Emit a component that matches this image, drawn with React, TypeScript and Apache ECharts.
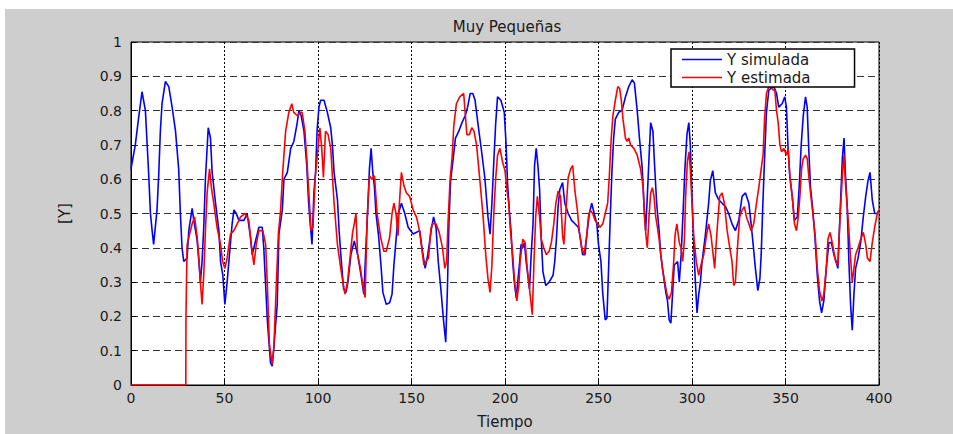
import React, { useEffect, useRef } from "react";
import * as echarts from "echarts";

const chartTitle = "Muy Pequeñas";
const xAxisName = "Tiempo";
const yAxisName = "[Y]";
const seriesNames = ["Y simulada", "Y estimada"];

// [tiempo, valor]
const ySimulada: [number, number][] = [
  [0,0.63],[2.3,0.70],[4.1,0.78],[5.9,0.855],[7.7,0.80],[9.5,0.61],[10.4,0.50],[11.3,0.45],[12.1,0.41],[13.9,0.51],
  [14.8,0.61],[15.7,0.74],[16.6,0.82],[18.4,0.885],[20.2,0.87],[22,0.81],[23.8,0.74],[25.5,0.63],[26.4,0.50],[27.3,0.40],
  [28.2,0.36],[30,0.37],[30.9,0.45],[32.7,0.515],[33.6,0.48],[35.4,0.42],[36.3,0.36],[37.1,0.30],[38,0.36],[38.9,0.46],
  [39.8,0.60],[41.3,0.75],[42.5,0.72],[43.4,0.62],[45.2,0.53],[47,0.45],[47.9,0.36],[49.1,0.32],[50.2,0.235],[51.4,0.30],
  [53.2,0.415],[54.1,0.47],[55,0.51],[56.3,0.50],[57.7,0.48],[60.4,0.48],[62.1,0.50],[63.9,0.43],[64.8,0.38],[66.6,0.42],
  [68.4,0.46],[70.2,0.46],[71,0.40],[72,0.29],[72.9,0.19],[74.6,0.065],[75.5,0.055],[76.4,0.11],[78.2,0.235],[79.1,0.44],
  [80.9,0.51],[81.8,0.60],[83.6,0.62],[85.4,0.69],[87.1,0.71],[88.9,0.765],[89.8,0.80],[91,0.785],[92.5,0.74],[94,0.64],
  [95,0.53],[96,0.46],[96.8,0.41],[97.8,0.56],[98.7,0.62],[99.5,0.74],[100.5,0.81],[101.4,0.83],[103.2,0.83],[105,0.795],
  [106.8,0.75],[107.7,0.70],[108.6,0.62],[110.4,0.54],[111.3,0.45],[112.2,0.38],[113.7,0.28],[115,0.27],[116,0.30],[117.6,0.38],
  [119.4,0.42],[121.2,0.38],[123,0.32],[124.5,0.265],[125.7,0.41],[126.6,0.51],[127.5,0.63],[128.4,0.69],[129.3,0.62],[130.2,0.575],
  [131,0.50],[132.4,0.435],[133.8,0.34],[134.7,0.27],[136.5,0.235],[138.3,0.24],[139.6,0.265],[140.6,0.35],[142,0.44],[143,0.50],
  [144.6,0.53],[146.4,0.50],[148.2,0.46],[150.9,0.44],[154.4,0.45],[155.6,0.40],[157.3,0.34],[158.7,0.38],[160.5,0.45],[161.8,0.49],
  [163.1,0.46],[164.3,0.36],[165.7,0.28],[167.1,0.19],[168.3,0.125],[169.2,0.28],[170,0.47],[170.9,0.595],[172.3,0.66],[173.5,0.72],
  [175.3,0.74],[177,0.765],[178.7,0.785],[180,0.81],[181.4,0.85],[182.8,0.85],[184,0.83],[185.7,0.755],[187.5,0.68],[189.2,0.605],
  [190.9,0.49],[192,0.44],[193,0.53],[194,0.65],[195,0.76],[196,0.84],[197.8,0.83],[199.6,0.795],[200.5,0.71],[201.4,0.585],
  [202.3,0.51],[203.2,0.45],[204.1,0.36],[205,0.30],[206,0.255],[206.8,0.30],[207.7,0.35],[208.6,0.41],[209.5,0.40],[210.4,0.415],
  [211.3,0.36],[212.2,0.32],[213.1,0.28],[214,0.38],[215,0.47],[215.8,0.64],[216.7,0.69],[217.6,0.64],[218.5,0.57],[219.4,0.425],
  [220.3,0.33],[221.8,0.29],[223.6,0.30],[225.7,0.32],[226.6,0.36],[227.5,0.425],[228.4,0.52],[229.3,0.57],[230.8,0.59],[232,0.53],
  [233.8,0.50],[235.6,0.48],[237.4,0.47],[239.2,0.46],[240.1,0.435],[241.5,0.38],[242.8,0.38],[243.7,0.435],[245.1,0.50],[246.4,0.53],
  [247.7,0.50],[249.1,0.47],[250,0.41],[251.3,0.36],[252.3,0.265],[253.6,0.19],[254.5,0.195],[255.4,0.34],[256.3,0.49],[257.2,0.625],
  [258.1,0.72],[259,0.775],[260.8,0.795],[262.6,0.80],[264.4,0.84],[266.2,0.87],[268,0.89],[269.2,0.88],[270.7,0.80],[271.9,0.72],
  [273.4,0.63],[274.3,0.53],[275.2,0.45],[276.1,0.55],[277,0.66],[277.9,0.765],[279.1,0.74],[280,0.64],[281.1,0.53],[282.4,0.45],
  [283.3,0.38],[284.7,0.32],[286,0.27],[286.9,0.245],[287.8,0.19],[288.7,0.18],[289.6,0.265],[290.5,0.35],[292.3,0.36],[293.2,0.30],
  [294.2,0.38],[295.2,0.50],[296.2,0.63],[297.3,0.73],[298.3,0.765],[299.1,0.70],[300,0.55],[300.9,0.415],[301.8,0.30],[302.7,0.21],
  [303.6,0.265],[304.5,0.30],[305.4,0.36],[307.1,0.435],[308.9,0.53],[309.8,0.595],[311.1,0.625],[312.5,0.56],[314.3,0.54],[316.1,0.53],
  [317.9,0.52],[319.6,0.50],[321.4,0.47],[323.2,0.45],[325,0.48],[326.8,0.55],[328.6,0.56],[330.4,0.53],[331.6,0.47],[332.7,0.41],
  [333.9,0.34],[335.2,0.275],[336.3,0.31],[337,0.38],[337.9,0.53],[338.8,0.66],[339.8,0.795],[341.1,0.86],[342.3,0.865],[343.8,0.87],
  [345.2,0.85],[346.4,0.81],[348.2,0.82],[349.6,0.84],[350.5,0.81],[351.3,0.70],[352.3,0.61],[353.6,0.55],[354.8,0.48],[356.3,0.49],
  [357.3,0.575],[358.4,0.70],[359.5,0.785],[360.7,0.84],[361.6,0.81],[362.5,0.68],[363.4,0.575],[364.6,0.51],[365.7,0.435],[367,0.32],
  [368.2,0.245],[369.3,0.21],[370.5,0.245],[371.8,0.34],[373.2,0.415],[374.5,0.415],[375.9,0.38],[377.1,0.36],[378,0.34],[379.1,0.49],
  [380.4,0.66],[381.3,0.72],[382.1,0.61],[383,0.52],[383.9,0.36],[384.8,0.235],[385.7,0.16],[386.6,0.265],[387.5,0.34],[388.8,0.37],
  [390.2,0.415],[391.6,0.49],[392.9,0.55],[394.1,0.595],[395.2,0.62],[396.4,0.54],[397.7,0.50],[399.1,0.50],[400,0.51],
];

const yEstimada: [number, number][] = [
  [0,0],[29.3,0],[29.4,0.2],[30,0.41],[30.9,0.43],[32.7,0.47],[34,0.49],[35.4,0.43],[36.3,0.37],[37.1,0.30],
  [38,0.235],[38.9,0.32],[39.8,0.45],[40.7,0.56],[42,0.63],[43,0.575],[44,0.54],[46,0.46],[47.9,0.41],[49,0.36],
  [50.2,0.34],[51.4,0.37],[53.2,0.44],[55,0.45],[56.8,0.47],[58.6,0.49],[61,0.50],[63,0.48],[64.5,0.40],[65.7,0.35],
  [67,0.41],[68.4,0.45],[70.5,0.45],[72,0.41],[73,0.28],[74,0.12],[75.5,0.06],[76.4,0.11],[77.3,0.235],[78.8,0.44],
  [80,0.51],[81,0.61],[82.7,0.74],[84.4,0.795],[86,0.82],[87,0.795],[89,0.785],[90.7,0.795],[91.5,0.795],[93,0.74],
  [94,0.66],[95.2,0.55],[96.3,0.45],[97.3,0.46],[98.6,0.61],[100,0.69],[101,0.75],[102,0.69],[102.9,0.605],[104,0.74],
  [105.4,0.73],[106.8,0.69],[107.7,0.61],[108.6,0.53],[109.5,0.47],[110.4,0.41],[111.9,0.35],[113,0.31],[114.4,0.265],[115.8,0.30],
  [117.3,0.38],[118.5,0.445],[119.4,0.47],[120.3,0.50],[121.2,0.38],[122.7,0.34],[124,0.29],[125.2,0.255],[126.3,0.49],[127.5,0.61],
  [128.8,0.60],[130.2,0.61],[131.6,0.50],[133.5,0.43],[135.2,0.39],[136.5,0.39],[138.3,0.43],[139.6,0.50],[140.6,0.53],[141.7,0.50],
  [142.8,0.435],[143.3,0.51],[144.6,0.62],[146,0.58],[147.3,0.56],[149,0.55],[150.9,0.51],[152.6,0.49],[153.5,0.47],[154.4,0.445],
  [155.2,0.41],[156.6,0.35],[157.8,0.36],[159.1,0.37],[160.5,0.46],[161.3,0.47],[163.1,0.47],[164.8,0.445],[166.6,0.40],[167.8,0.34],
  [168.8,0.36],[169.5,0.47],[170.6,0.595],[171.8,0.67],[172.6,0.755],[174,0.82],[175.8,0.84],[177.9,0.85],[178.7,0.795],[179.6,0.73],
  [181,0.73],[182.2,0.75],[183.4,0.74],[184.8,0.70],[186.6,0.595],[188.3,0.49],[189.7,0.38],[190.9,0.31],[192,0.27],[193,0.35],
  [194,0.50],[195,0.60],[196,0.67],[197.3,0.69],[198.7,0.65],[200,0.625],[200.9,0.575],[202,0.53],[202.9,0.45],[204.1,0.38],
  [205,0.31],[206.3,0.245],[207.4,0.29],[208.1,0.36],[209.5,0.425],[210.8,0.415],[211.9,0.34],[213.1,0.28],[214.6,0.205],[215.5,0.36],
  [216.4,0.49],[217.3,0.55],[218.5,0.49],[219.4,0.425],[220.7,0.40],[222.1,0.38],[223.6,0.39],[224.8,0.415],[226.1,0.47],[227.2,0.53],
  [228.4,0.565],[229.7,0.55],[230.8,0.435],[231.5,0.41],[232.6,0.51],[233.8,0.605],[235.1,0.63],[236.2,0.64],[237.4,0.565],[238.7,0.51],
  [239.7,0.45],[241,0.40],[242.3,0.38],[243.7,0.435],[244.6,0.49],[245.5,0.51],[246.9,0.50],[248.2,0.48],[249.5,0.47],[250.9,0.46],
  [252.3,0.47],[253.6,0.50],[254.9,0.53],[255.8,0.61],[256.7,0.71],[257.7,0.785],[259,0.83],[260.3,0.87],[261.3,0.865],[262.2,0.83],
  [263.1,0.775],[264.4,0.72],[265.3,0.71],[266.2,0.72],[267.1,0.70],[268.9,0.69],[270.7,0.67],[272.5,0.63],[273.9,0.575],[274.6,0.49],
  [275.4,0.435],[276.1,0.40],[277,0.49],[277.9,0.56],[278.8,0.575],[279.7,0.55],[280.6,0.49],[281.5,0.46],[282.4,0.425],[283.3,0.38],
  [284.2,0.34],[285.1,0.31],[286.6,0.265],[287.8,0.25],[289,0.27],[290.1,0.35],[291,0.44],[291.9,0.47],[293.2,0.415],[294.1,0.40],
  [295,0.36],[295.9,0.42],[296.6,0.55],[297.5,0.65],[298.4,0.68],[299.1,0.63],[300,0.53],[300.9,0.435],[302.3,0.36],[303.6,0.32],
  [304.8,0.35],[306.3,0.38],[307.7,0.435],[308.9,0.47],[310.2,0.435],[311.3,0.38],[312.1,0.34],[313.4,0.45],[314.8,0.55],[316.1,0.56],
  [317.3,0.53],[318.8,0.45],[320.2,0.40],[321.4,0.36],[322.3,0.29],[323.2,0.30],[324.5,0.415],[325.5,0.49],[326.8,0.51],[328,0.52],
  [329.1,0.49],[330.4,0.47],[331.6,0.45],[333,0.47],[334.5,0.53],[335.7,0.575],[337,0.63],[338,0.67],[338.8,0.775],[339.8,0.85],
  [341.1,0.87],[342.3,0.87],[343.4,0.86],[344.3,0.86],[345.2,0.80],[346.1,0.765],[347,0.70],[347.9,0.68],[349.1,0.69],[350.5,0.67],
  [351.4,0.69],[352.3,0.61],[353.6,0.55],[354.8,0.47],[355.9,0.45],[356.8,0.49],[357.7,0.55],[358.6,0.63],[359.5,0.66],[360.7,0.67],
  [361.6,0.66],[362.7,0.595],[363.8,0.54],[364.8,0.49],[365.9,0.435],[367,0.34],[368.2,0.275],[369.5,0.245],[370.5,0.265],[371.8,0.34],
  [372.7,0.425],[373.8,0.445],[374.6,0.425],[375.5,0.40],[376.8,0.36],[378,0.35],[379.1,0.48],[380.4,0.61],[381.3,0.67],[382.1,0.585],
  [383,0.52],[383.9,0.45],[384.8,0.37],[385.7,0.30],[386.6,0.34],[387.5,0.38],[388.8,0.40],[390.2,0.425],[391.6,0.445],[392.9,0.41],
  [393.8,0.37],[395.2,0.36],[396.4,0.415],[397.7,0.46],[399.1,0.50],[400,0.51],
];

const FONT = "DejaVu Sans";
const TEXT_COLOR = "#1a1a1a";

export default function App() {
  const ref = useRef<HTMLDivElement>(null);

  useEffect(() => {
    if (!ref.current) return;
    const chart = echarts.init(ref.current, null, { renderer: "svg" });
    chart.setOption({
      animation: false,
      backgroundColor: "#cecece",
      title: {
        text: chartTitle,
        left: 497,
        top: 5,
        textAlign: "center",
        textStyle: { fontFamily: FONT, fontSize: 15, fontWeight: "normal", color: TEXT_COLOR },
      },
      legend: {
        data: seriesNames,
        orient: "vertical",
        left: 666,
        top: 40,
        icon: "rect",
        padding: [2, 44, 1, 11],
        itemGap: 1,
        itemWidth: 40,
        itemHeight: 1.5,
        itemTextGap: 15,
        backgroundColor: "#ffffff",
        borderColor: "#000000",
        borderWidth: 1.5,
        borderRadius: 0,
        textStyle: { fontFamily: FONT, fontSize: 15, lineHeight: 17, color: TEXT_COLOR },
      },
      grid: {
        left: 126,
        top: 33,
        right: 74,
        bottom: 39,
        show: true,
        backgroundColor: "#ffffff",
        borderColor: "#000000",
        borderWidth: 1,
      },
      xAxis: {
        type: "value",
        min: 0,
        max: 400,
        interval: 50,
        name: xAxisName,
        nameLocation: "middle",
        nameGap: 29,
        nameTextStyle: { fontFamily: FONT, fontSize: 15, color: TEXT_COLOR },
        axisLine: { show: true, lineStyle: { color: "#000", width: 1 } },
        axisTick: { show: true, inside: true, length: 5, lineStyle: { color: "#000" } },
        axisLabel: { margin: 6, fontFamily: FONT, fontSize: 14, color: TEXT_COLOR },
        splitLine: { show: true, lineStyle: { color: "#000", type: [2, 2], width: 1 } },
      },
      yAxis: {
        type: "value",
        min: 0,
        max: 1,
        interval: 0.1,
        name: yAxisName,
        nameLocation: "middle",
        nameGap: 59,
        nameRotate: 90,
        nameTextStyle: { fontFamily: FONT, fontSize: 15, color: TEXT_COLOR },
        axisLine: { show: true, lineStyle: { color: "#000", width: 1 } },
        axisTick: { show: true, inside: true, length: 5, lineStyle: { color: "#000" } },
        axisLabel: { margin: 9, fontFamily: FONT, fontSize: 14, color: TEXT_COLOR },
        splitLine: { show: true, lineStyle: { color: "#333", type: [7, 4], width: 1 } },
      },
      series: [
        {
          name: seriesNames[0],
          type: "line",
          data: ySimulada,
          symbol: "none",
          lineStyle: { color: "#0000ff", width: 1.6 },
          itemStyle: { color: "#0000ff" },
          z: 2,
        },
        {
          name: seriesNames[1],
          type: "line",
          data: yEstimada,
          symbol: "none",
          lineStyle: { color: "#ff0000", width: 1.6 },
          itemStyle: { color: "#ff0000" },
          z: 3,
        },
      ],
    });
    return () => chart.dispose();
  }, []);

  return (
    <div
      ref={ref}
      style={{ position: "absolute", left: 5, top: 9, width: 948, height: 425 }}
    />
  );
}
